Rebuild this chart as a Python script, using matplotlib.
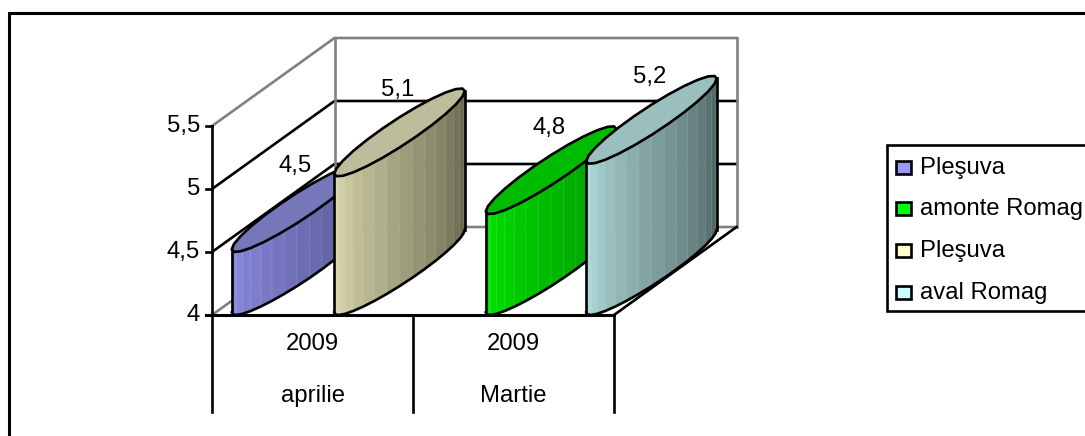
import numpy as np
import matplotlib
matplotlib.use('Agg')
import matplotlib.pyplot as plt
from matplotlib.patches import Polygon, Rectangle
from matplotlib.colors import to_rgb

plt.rcParams['font.family'] = ['Liberation Sans', 'DejaVu Sans']

# values of the chart
series_names = ['Pleşuva', 'amonte Romag', 'Pleşuva', 'aval Romag']
values = [4.5, 4.8, 5.1, 5.2]
value_labels = ['4,5', '4,8', '5,1', '5,2']
months = ['aprilie', 'Martie']
years = ['2009', '2009']
y_ticks = [4, 4.5, 5, 5.5]
y_tick_labels = ['4', '4,5', '5', '5,5']

# series colours: legend swatch, lit side, shaded side, top cap
swatch = ['#9999ff', '#00ff00', '#ffffcc', '#ccffff']
light = ['#8c8ce4', '#00e800', '#e2e0b4', '#b6e2e2']
dark = ['#52528a', '#008c00', '#62624a', '#4c6060']
cap = ['#7676bb', '#00bb00', '#bdbd9b', '#9bbfbf']

# projection of the 3d box, in pixels
X0, X1 = 212, 614
Y0 = 315
PX_PER_UNIT = 126
DX, DY = 122.5, -88
CYL_HALF_W = 22.5
FONT = 17.2
LW = 1.9
# cylinder centres, drawn back to front
cyl_x = [297, 551, 399.5, 651.5]
draw_order = [0, 2, 1, 3]


def val_y(v):
    return Y0 - PX_PER_UNIT * (v - 4)


def ellipse(cx, cy, t):
    return (cx + CYL_HALF_W * np.cos(t) + 0.5 * DX * np.sin(t),
            cy + 0.5 * DY * np.sin(t))


def mix(c1, c2, f):
    a, b = np.array(to_rgb(c1)), np.array(to_rgb(c2))
    return tuple(a + (b - a) * f)


fig = plt.figure(figsize=(10.85, 4.36), dpi=100)
ax = fig.add_axes([0, 0, 1, 1])
ax.set_xlim(0, 1085)
ax.set_ylim(436, 0)
ax.axis('off')

# chart frame, open at the right and bottom
ax.plot([9, 9, 1085], [436, 13, 13], color='black', lw=2.2, solid_joinstyle='miter')

GREY = '#808080'
top = val_y(5.5)

# wall gridlines
for v in y_ticks[1:-1]:
    y = val_y(v)
    ax.plot([X0, X0 + DX, X1 + DX], [y, y + DY, y + DY], color='black', lw=LW, zorder=1)

# box edges
ax.plot([X0, X0 + DX, X1 + DX], [top, top + DY, top + DY], color=GREY, lw=LW, zorder=1)
ax.plot([X0, X0 + DX, X1 + DX], [Y0, Y0 + DY, Y0 + DY], color=GREY, lw=LW, zorder=1)
ax.plot([X0 + DX, X0 + DX], [top + DY, Y0 + DY], color=GREY, lw=LW, zorder=1)
ax.plot([X1 + DX, X1 + DX], [top + DY, Y0 + DY], color=GREY, lw=LW, zorder=1)
ax.plot([X1, X1 + DX], [Y0, Y0 + DY], color='black', lw=LW, zorder=1)

# cylinders
for z, i in enumerate(draw_order):
    z = 3 + z
    cx = cyl_x[i]
    cy_base = Y0 + 0.5 * DY
    cy_top = val_y(values[i]) + 0.5 * DY
    h = cy_base - cy_top
    # silhouette tangent angles, facets run between them along the front
    t_r = np.arctan2(0.5 * DX, CYL_HALF_W)
    t_l = t_r + np.pi
    ts = np.linspace(t_l, t_r + 2 * np.pi, 17)
    for k in range(len(ts) - 1):
        xa, ya = ellipse(cx, cy_base, ts[k])
        xb, yb = ellipse(cx, cy_base, ts[k + 1])
        col = mix(light[i], dark[i], k / (len(ts) - 2))
        ax.add_patch(Polygon([(xa, ya), (xb, yb), (xb, yb - h), (xa, ya - h)],
                             closed=True, facecolor=col, edgecolor=mix(col, '#ffffff', 0.12),
                             lw=0.5, zorder=z))
    # outline of the side wall
    xs, ys = ellipse(cx, cy_base, ts)
    ax.plot(xs, ys, color='black', lw=LW, zorder=z)
    xl, yl = ellipse(cx, cy_base, t_l)
    xr, yr = ellipse(cx, cy_base, t_r)
    ax.plot([xl, xl], [yl, yl - h], color='black', lw=LW, zorder=z)
    ax.plot([xr, xr], [yr, yr - h], color='black', lw=LW, zorder=z)
    # top cap
    tc = np.linspace(t_l, t_l + 2 * np.pi, 25)
    xc, yc = ellipse(cx, cy_top, tc)
    ax.add_patch(Polygon(np.column_stack([xc, yc]), closed=True, facecolor=cap[i],
                         edgecolor='black', lw=LW, joinstyle='round', zorder=z))
    ax.text(cx - 1.5, cy_top + 0.5 * DY + 1.5, value_labels[i], fontsize=FONT, ha='center',
            va='center', color='black', zorder=20)

# value axis
ax.plot([X0, X0], [top, 412], color='black', lw=LW, zorder=10)
for v, lab in zip(y_ticks, y_tick_labels):
    y = val_y(v)
    ax.plot([X0 - 6, X0], [y, y], color='black', lw=LW, zorder=10)
    ax.text(X0 - 12, y, lab, fontsize=FONT, ha='right', va='center', color='black')

# category axis with its two label rows
ax.plot([X0 - 6, X1], [Y0, Y0], color='black', lw=2.2, zorder=10)
cat_edges = np.linspace(X0, X1, len(months) + 1)
for xe in cat_edges[1:]:
    ax.plot([xe, xe], [Y0, 412], color='black', lw=LW, zorder=10)
for k in range(len(months)):
    xm = 0.5 * (cat_edges[k] + cat_edges[k + 1])
    ax.text(xm, 344, years[k], fontsize=FONT, ha='center', va='center')
    ax.text(xm, 396, months[k], fontsize=FONT, ha='center', va='center')

# legend box, open at the right
ax.plot([1085, 887, 887, 1085], [145, 145, 311, 311], color='black', lw=LW,
        solid_joinstyle='miter')
for k, name in enumerate(series_names):
    yl = 167 + k * 41.7
    ax.add_patch(Rectangle((896, yl - 6.5), 14.5, 13, facecolor=swatch[k],
                           edgecolor='black', lw=LW))
    ax.text(920, yl + 0.5, name, fontsize=FONT, ha='left', va='center')

fig.savefig('out.png', dpi=100)
